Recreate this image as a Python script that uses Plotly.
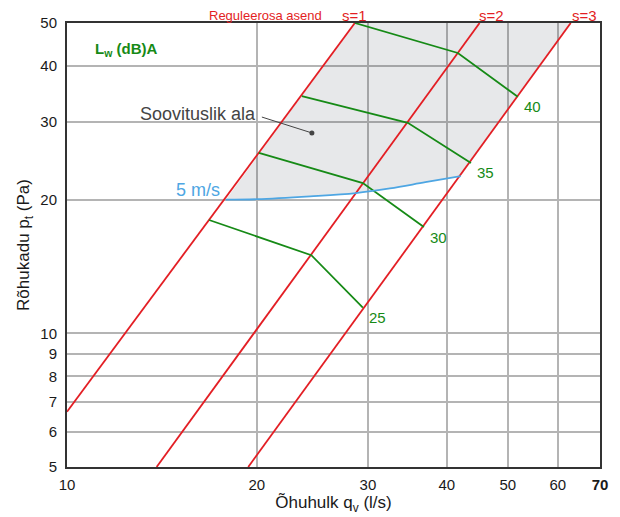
import numpy as np
import plotly.graph_objects as go

# Damper position curves s=1..3: (airflow l/s, pressure drop Pa) at their ends
s1_q = [10.0, 28.6]
s1_p = [6.66, 50.0]
s2_q = [13.87, 45.1]
s2_p = [5.0, 50.0]
s3_q = [19.38, 62.9]
s3_p = [5.0, 50.0]
s_labels = ["s=1", "s=2", "s=3"]

# Sound power level isolines L_w dB(A), crossing s=1, s=2, s=3
lw_levels = ["25", "30", "35", "40"]
lw25_q = [16.8, 24.4, 29.45]
lw25_p = [18.0, 15.0, 11.43]
lw30_q = [20.15, 29.45, 36.8]
lw30_p = [25.5, 21.8, 17.35]
lw35_q = [23.57, 34.7, 43.7]
lw35_p = [34.2, 29.8, 24.2]
lw40_q = [28.6, 41.66, 51.84]
lw40_p = [50.0, 42.8, 34.1]

# Duct velocity 5 m/s
v5_q = [17.86, 20.0, 24.3, 28.7, 32.5, 37.0, 42.1]
v5_p = [20.0, 20.05, 20.35, 20.7, 21.2, 21.9, 22.6]

# Pointer of the recommended-area note
note_q = [20.37, 24.45]
note_p = [30.7, 28.27]

x_ticks = [10, 20, 30, 40, 50, 60, 70]
x_ticktext = ["10", "20", "30", "40", "50", "60", "<b>70</b>"]
y_ticks = [5, 6, 7, 8, 9, 10, 20, 30, 40, 50]

RED = "#e31e24"
GREEN = "#168a16"
BLUE = "#4ea6e3"
FONT = "Liberation Sans, Arial, sans-serif"

fig = go.Figure()

# Recommended operating area
area_q = [s1_q[-1], s3_q[-1]] + v5_q[::-1]
area_p = [s1_p[-1], s3_p[-1]] + v5_p[::-1]
fig.add_trace(go.Scatter(x=area_q, y=area_p, mode="lines", fill="toself",
                         fillcolor="rgba(40,50,70,0.115)", line=dict(width=0),
                         hoverinfo="skip"))

# Damper curves
for q, p in [(s1_q, s1_p), (s2_q, s2_p), (s3_q, s3_p)]:
    fig.add_trace(go.Scatter(x=q, y=p, mode="lines",
                             line=dict(color=RED, width=1.8)))

# Sound isolines
lw_lines = [(lw25_q, lw25_p), (lw30_q, lw30_p), (lw35_q, lw35_p), (lw40_q, lw40_p)]
for q, p in lw_lines:
    fig.add_trace(go.Scatter(x=q, y=p, mode="lines",
                             line=dict(color=GREEN, width=1.8)))

# Velocity line
fig.add_trace(go.Scatter(x=v5_q, y=v5_p, mode="lines", line_shape="spline",
                         line=dict(color=BLUE, width=1.8)))

# Note pointer and dot
fig.add_trace(go.Scatter(x=note_q, y=note_p, mode="lines",
                         line=dict(color="#444444", width=1)))
fig.add_trace(go.Scatter(x=[note_q[-1]], y=[note_p[-1]], mode="markers",
                         marker=dict(color="#444444", size=5)))

annotations = []
for lab, (q, p) in zip(lw_levels, lw_lines):
    annotations.append(dict(x=np.log10(q[-1]), y=np.log10(p[-1]), text=lab,
                            showarrow=False, xanchor="left", yanchor="middle",
                            xshift=4, yshift=-10,
                            font=dict(family=FONT, size=15, color=GREEN)))

annotations.append(dict(x=np.log10(v5_q[0]), y=np.log10(v5_p[0]), text="5 m/s",
                        showarrow=False, xanchor="right", yanchor="middle",
                        xshift=-4, yshift=10,
                        font=dict(family=FONT, size=18, color=BLUE)))

annotations.append(dict(x=np.log10(note_q[0]), y=np.log10(note_p[0]),
                        text="Soovituslik ala", showarrow=False,
                        xanchor="right", yanchor="middle", xshift=-4, yshift=3,
                        font=dict(family=FONT, size=18, color="#444444")))

annotations.append(dict(xref="paper", yref="paper", x=0.049, y=0.9414,
                        text="<b>L<sub>w</sub> (dB)A</b>", showarrow=False,
                        xanchor="left", yanchor="middle",
                        font=dict(family=FONT, size=15, color=GREEN)))

annotations.append(dict(xref="paper", yref="paper", x=0.373, y=1.018,
                        text="Reguleerosa asend", showarrow=False,
                        xanchor="center", yanchor="middle",
                        font=dict(family=FONT, size=13, color=RED)))

for lab, xp in zip(s_labels, [0.540, 0.797, 0.970]):
    annotations.append(dict(xref="paper", yref="paper", x=xp, y=1.018,
                            text=lab, showarrow=False,
                            xanchor="center", yanchor="middle",
                            font=dict(family=FONT, size=15, color=RED)))

axis_common = dict(showgrid=True, gridcolor="#b4b4b4", gridwidth=1.5,
                   showline=True, linecolor="#333333", linewidth=2, mirror=True,
                   ticks="", zeroline=False, automargin=False,
                   tickfont=dict(family=FONT, size=15, color="#1a1a1a"))

fig.update_layout(
    width=620, height=517,
    margin=dict(l=67, r=20, t=23, b=50),
    paper_bgcolor="white", plot_bgcolor="white",
    showlegend=False,
    annotations=annotations,
    xaxis=dict(type="log", range=[np.log10(10), np.log10(70)],
               tickvals=x_ticks, ticktext=x_ticktext, ticklabelstandoff=3,
               title=dict(text="Õhuhulk q<sub>v</sub> (l/s)", standoff=4,
                          font=dict(family=FONT, size=17, color="#1a1a1a")),
               **axis_common),
    yaxis=dict(type="log", range=[np.log10(5), np.log10(50)],
               tickvals=y_ticks, ticktext=[str(v) for v in y_ticks],
               ticklabelstandoff=5,
               title=dict(text="Rõhukadu p<sub>t</sub> (Pa)", standoff=6,
                          font=dict(family=FONT, size=17, color="#1a1a1a")),
               **axis_common),
)

fig.write_html("out.html")
